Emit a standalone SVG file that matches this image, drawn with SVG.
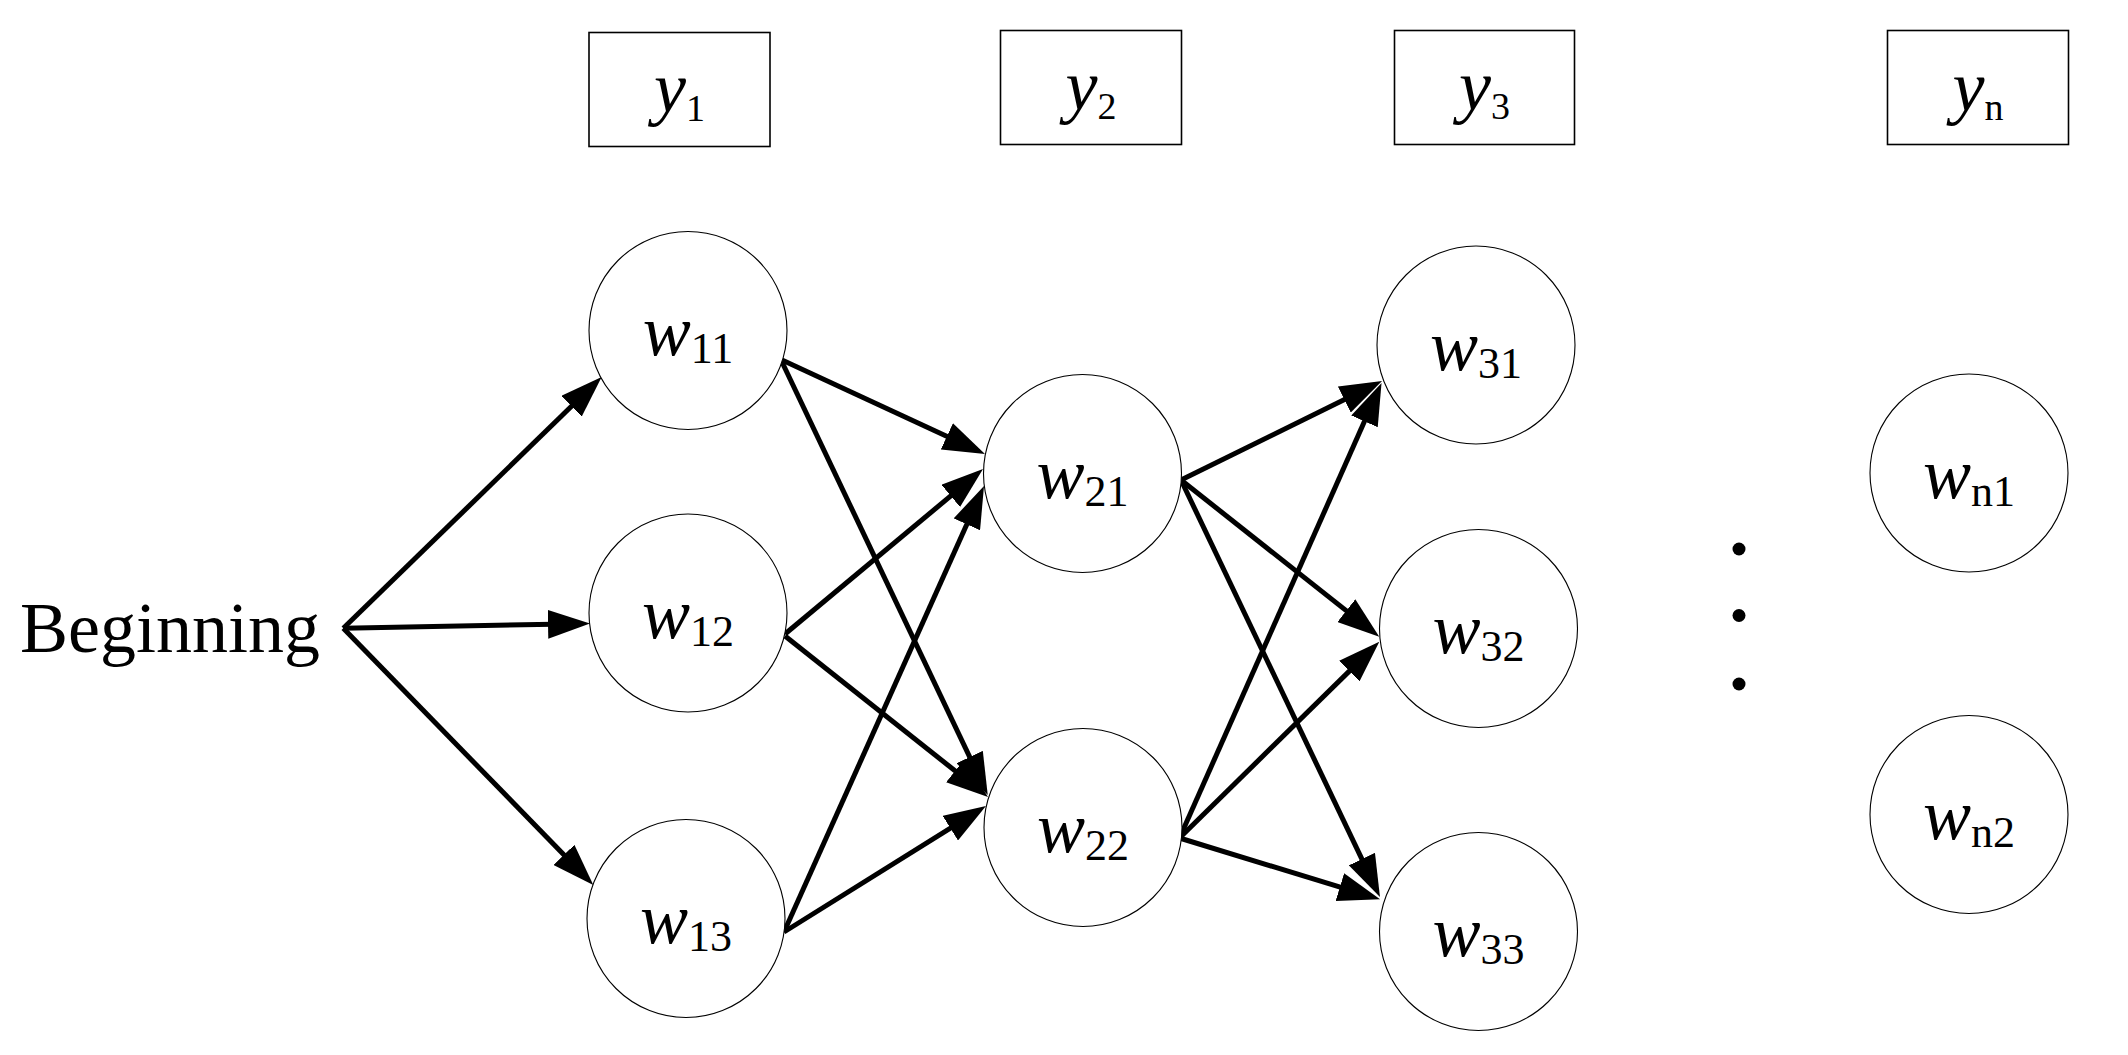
<svg xmlns="http://www.w3.org/2000/svg" width="2128" height="1055" viewBox="0 0 2128 1055">
<style>
.box{fill:#fff;stroke:#000;stroke-width:1.6}
.node{fill:#fff;stroke:#000;stroke-width:1.1}
.lbl{font-family:'Liberation Serif','Times New Roman',Times,Tinos,'DejaVu Serif',serif;font-size:72px;fill:#000;text-anchor:middle}
.beg{font-family:'Liberation Serif','Times New Roman',Times,Tinos,'DejaVu Serif',serif;font-size:72px;fill:#000}
.it{font-style:italic}
.sub{font-size:44px}
.ysub{font-size:38px}
.edge{stroke:#000;stroke-width:5;fill:none;marker-end:url(#ah)}
</style>
<defs>
<marker id="ah" markerUnits="userSpaceOnUse" markerWidth="42" markerHeight="29" viewBox="0 0 42 29" refX="20" refY="14.5" orient="auto">
<path d="M0,0 L42,14.5 L0,29 z" fill="#000"/>
</marker>
</defs>
<rect width="2128" height="1055" fill="#fff"/>
<g id="y1"><rect class="box" x="589" y="32.5" width="181" height="114"/><text class="lbl" x="679.5" y="112"><tspan class="it">y</tspan><tspan class="ysub" dy="9">1</tspan></text></g>
<g id="y2"><rect class="box" x="1000.5" y="30.5" width="181" height="114"/><text class="lbl" x="1091" y="110"><tspan class="it">y</tspan><tspan class="ysub" dy="9">2</tspan></text></g>
<g id="y3"><rect class="box" x="1394.5" y="30.5" width="180" height="114"/><text class="lbl" x="1484.5" y="110"><tspan class="it">y</tspan><tspan class="ysub" dy="9">3</tspan></text></g>
<g id="yn"><rect class="box" x="1887.5" y="30.5" width="181" height="114"/><text class="lbl" x="1978" y="111"><tspan class="it">y</tspan><tspan class="ysub" dy="9">n</tspan></text></g>
<g id="beginning"><text class="beg" x="20" y="652">Beginning</text></g>
<g id="connectors">
<line class="edge" x1="343.3" y1="628.3" x2="585.9" y2="392.3"/>
<line class="edge" x1="343.3" y1="628.3" x2="568" y2="623.9"/>
<line class="edge" x1="343.3" y1="628.3" x2="577.95" y2="869.2"/>
<line class="edge" x1="782" y1="360" x2="965" y2="444.8"/>
<line class="edge" x1="782" y1="362" x2="978.3" y2="775.1"/>
<line class="edge" x1="785" y1="634" x2="966.1" y2="483.1"/>
<line class="edge" x1="785" y1="636" x2="970.8" y2="783.3"/>
<line class="edge" x1="784" y1="932" x2="975" y2="506.1"/>
<line class="edge" x1="784" y1="932" x2="967.3" y2="817.6"/>
<line class="edge" x1="1181" y1="480" x2="1362.3" y2="390.7"/>
<line class="edge" x1="1181" y1="480" x2="1362" y2="623.1"/>
<line class="edge" x1="1181" y1="480" x2="1370.5" y2="877.1"/>
<line class="edge" x1="1179.5" y1="838" x2="1372.6" y2="403.1"/>
<line class="edge" x1="1179.5" y1="838" x2="1363.6" y2="657.1"/>
<line class="edge" x1="1179.5" y1="838" x2="1359" y2="892.9"/>
</g>
<g id="w11"><circle class="node" cx="688" cy="330.5" r="99"/><text class="lbl" x="688" y="355"><tspan class="it">w</tspan><tspan class="sub" dy="8">11</tspan></text></g>
<g id="w12"><circle class="node" cx="688" cy="613" r="99"/><text class="lbl" x="688" y="637.5"><tspan class="it">w</tspan><tspan class="sub" dy="8">12</tspan></text></g>
<g id="w13"><circle class="node" cx="686" cy="918.5" r="99"/><text class="lbl" x="686" y="943"><tspan class="it">w</tspan><tspan class="sub" dy="8">13</tspan></text></g>
<g id="w21"><circle class="node" cx="1082.5" cy="473.5" r="99"/><text class="lbl" x="1082.5" y="498"><tspan class="it">w</tspan><tspan class="sub" dy="8">21</tspan></text></g>
<g id="w22"><circle class="node" cx="1083" cy="827.5" r="99"/><text class="lbl" x="1083" y="852"><tspan class="it">w</tspan><tspan class="sub" dy="8">22</tspan></text></g>
<g id="w31"><circle class="node" cx="1476" cy="345" r="99"/><text class="lbl" x="1476" y="369.5"><tspan class="it">w</tspan><tspan class="sub" dy="8">31</tspan></text></g>
<g id="w32"><circle class="node" cx="1478.5" cy="628.5" r="99"/><text class="lbl" x="1478.5" y="653"><tspan class="it">w</tspan><tspan class="sub" dy="8">32</tspan></text></g>
<g id="w33"><circle class="node" cx="1478.5" cy="931.5" r="99"/><text class="lbl" x="1478.5" y="956"><tspan class="it">w</tspan><tspan class="sub" dy="8">33</tspan></text></g>
<g id="wn1"><circle class="node" cx="1969" cy="473" r="99"/><text class="lbl" x="1969" y="497.5"><tspan class="it">w</tspan><tspan class="sub" dy="8">n1</tspan></text></g>
<g id="wn2"><circle class="node" cx="1969" cy="814.5" r="99"/><text class="lbl" x="1969" y="839"><tspan class="it">w</tspan><tspan class="sub" dy="8">n2</tspan></text></g>
<g id="ellipsis" fill="#000"><circle cx="1739" cy="549" r="6.5"/><circle cx="1739" cy="615.5" r="6.5"/><circle cx="1739" cy="684" r="6.5"/></g>
</svg>
